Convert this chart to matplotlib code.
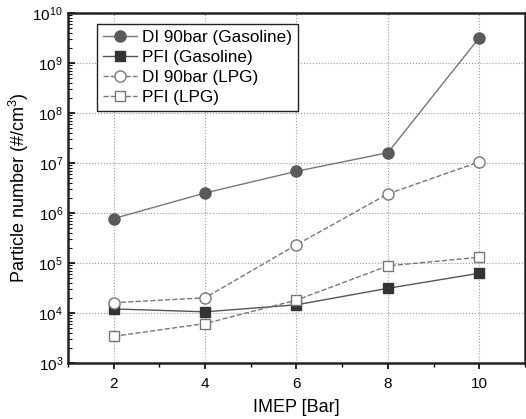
import matplotlib
matplotlib.use('Agg')
import matplotlib.pyplot as plt
from matplotlib.ticker import FixedLocator, MultipleLocator, NullFormatter

plt.rcParams['font.family'] = ['Liberation Sans', 'DejaVu Sans']
plt.rcParams['mathtext.fontset'] = 'custom'
plt.rcParams['mathtext.rm'] = 'Liberation Sans'
plt.rcParams['mathtext.it'] = 'Liberation Sans:italic'

# data
imep = [2, 4, 6, 8, 10]
di_gasoline = [7.7e5, 2.5e6, 6.8e6, 1.6e7, 3.2e9]
pfi_gasoline = [1.2e4, 1.05e4, 1.45e4, 3.1e4, 6.2e4]
di_lpg = [1.6e4, 2.0e4, 2.3e5, 2.4e6, 1.05e7]
pfi_lpg = [3.4e3, 6.1e3, 1.8e4, 8.7e4, 1.3e5]
decades = [3, 4, 5, 6, 7, 8, 9, 10]

fig = plt.figure(figsize=(5.26, 4.19), dpi=100)
ax = fig.add_axes([0.129, 0.134, 0.869, 0.835])

ax.plot(imep, di_gasoline, '-', color='#777777', lw=1.0, marker='o', ms=8,
        mfc='#5a5a5a', mec='#5a5a5a', label='DI 90bar (Gasoline)', zorder=4)
ax.plot(imep, pfi_gasoline, '-', color='#555555', lw=1.0, marker='s', ms=7,
        mfc='#333333', mec='#333333', label='PFI (Gasoline)', zorder=4)
ax.plot(imep, di_lpg, '--', color='#777777', lw=1.0, marker='o', ms=8,
        mfc='white', mec='#777777', label='DI 90bar (LPG)', zorder=4)
ax.plot(imep, pfi_lpg, '--', color='#777777', lw=1.0, marker='s', ms=7,
        mfc='white', mec='#777777', label='PFI (LPG)', zorder=4)

ax.set_yscale('log')
ax.set_xlim(1, 11)
ax.set_ylim(1e3, 1e10)
ax.set_xticks(imep)
ax.xaxis.set_minor_locator(MultipleLocator(1))
ax.set_yticks([10.0 ** d for d in decades])
ax.set_yticklabels(['$10^{%d}$' % d for d in decades])
minor = [m * 10.0 ** d for d in decades[:-1] for m in range(2, 10)]
ax.yaxis.set_minor_locator(FixedLocator(minor))
ax.yaxis.set_minor_formatter(NullFormatter())

ax.grid(True, which='major', ls=':', color='#999999', lw=0.8)
ax.tick_params(axis='x', which='major', direction='out', length=4, width=1.2,
               labelsize=11, pad=6)
ax.tick_params(axis='x', which='minor', direction='out', length=3, width=1.0)
ax.tick_params(axis='y', which='major', direction='in', length=5, width=1.2, labelsize=11)
ax.tick_params(axis='y', which='minor', direction='in', length=3, width=0.8)

for s in ax.spines.values():
    s.set_linewidth(1.8)
    s.set_color('#222222')

ax.set_xlabel('IMEP [Bar]', fontsize=13, labelpad=6)
ax.set_ylabel('Particle number (#/cm$^3$)', fontsize=13, labelpad=1)

leg = ax.legend(loc='upper left', bbox_to_anchor=(0.063, 0.969), borderaxespad=0,
                fontsize=12.3, frameon=True, fancybox=False, framealpha=1,
                edgecolor='#222222', borderpad=0.35, labelspacing=0.3,
                handlelength=2.0, handletextpad=0.3)
leg.get_frame().set_linewidth(1.0)

fig.savefig('out.png', dpi=100)
